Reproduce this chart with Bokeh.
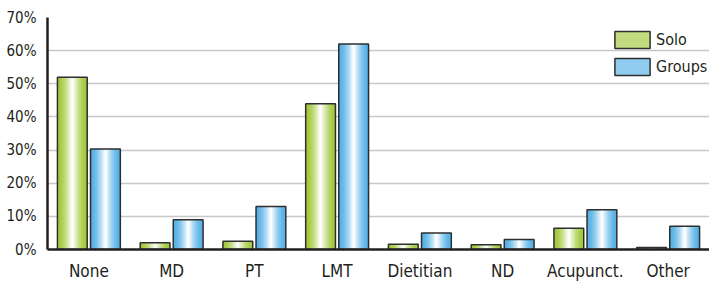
from bokeh.plotting import figure
from bokeh.models import ColumnDataSource, Range1d, PrintfTickFormatter, Legend, LegendItem
from bokeh.transform import dodge
from bokeh.embed import file_html
from bokeh.resources import INLINE

categories = ["None", "MD", "PT", "LMT", "Dietitian", "ND", "Acupunct.", "Other"]
solo = [52, 2, 2.5, 44, 1.6, 1.4, 6.4, 0.6]
groups = [30.3, 9, 13, 62, 5, 3, 12, 7]
y_ticks = [0, 10, 20, 30, 40, 50, 60, 70]

src = ColumnDataSource(dict(cat=categories, solo=solo, groups=groups))

FONT = "'DejaVu Sans Condensed', 'Roboto'"
TXT = "#231f20"

p = figure(x_range=categories, y_range=Range1d(0, 70), width=709, height=283,
           output_backend="svg", toolbar_location=None,
           min_border_left=47, min_border_right=0, min_border_top=17, min_border_bottom=34)
p.outline_line_color = None
p.xgrid.grid_line_color = None
p.ygrid.grid_line_color = "#c8c8c8"
p.ygrid.grid_line_width = 1.5
p.yaxis.ticker = y_ticks
p.yaxis.formatter = PrintfTickFormatter(format="%d%%")
for ax in (p.xaxis[0], p.yaxis[0]):
    ax.axis_line_color = TXT
    ax.axis_line_width = 2.5
    ax.major_tick_line_color = None
    ax.minor_tick_line_color = None
    ax.major_label_text_font = FONT
    ax.major_label_text_color = TXT
p.yaxis.major_label_text_font_size = "15px"
p.yaxis.major_label_standoff = 5
p.xaxis.major_label_text_font_size = "17px"
p.xaxis.major_label_standoff = 5


def hexmix(c, t):
    r, g, b = int(c[1:3], 16), int(c[3:5], 16), int(c[5:7], 16)
    r = round(r + (255 - r) * t)
    g = round(g + (255 - g) * t)
    b = round(b + (255 - b) * t)
    return "#%02x%02x%02x" % (r, g, b)


W = 0.36
K = 12
series = [("solo", -0.2, "#a2c83a", "Solo"), ("groups", 0.2, "#55b1e6", "Groups")]
items = []
for field, off, edge, label in series:
    for k in range(K):
        t = (k / (K - 1)) ** 1.6
        col = hexmix(edge, t * 0.97)
        p.vbar(x=dodge("cat", off, range=p.x_range), top=field, width=W * (1 - k / K),
               source=src, fill_color=col, line_color=None)
    p.vbar(x=dodge("cat", off, range=p.x_range), top=field, width=W, source=src,
           fill_alpha=0, line_color="#2e2e2e", line_width=1.5)
    leg = p.vbar(x=dodge("cat", off, range=p.x_range), top=field, width=W, source=src,
                 fill_color=hexmix(edge, 0.35), line_color="#2e2e2e", line_width=1.5, visible=False)
    items.append(LegendItem(label=label, renderers=[leg]))

legend = Legend(items=items, location=(563, 172), orientation="vertical")
legend.background_fill_alpha = 0
legend.border_line_color = None
legend.padding = 0
legend.margin = 0
legend.spacing = 6
legend.glyph_width = 44
legend.glyph_height = 21
legend.label_height = 21
legend.label_standoff = 2
legend.label_text_font = FONT
legend.label_text_font_size = "16px"
legend.label_text_color = TXT
p.add_layout(legend)

open("out.html", "w").write(file_html(p, INLINE))
